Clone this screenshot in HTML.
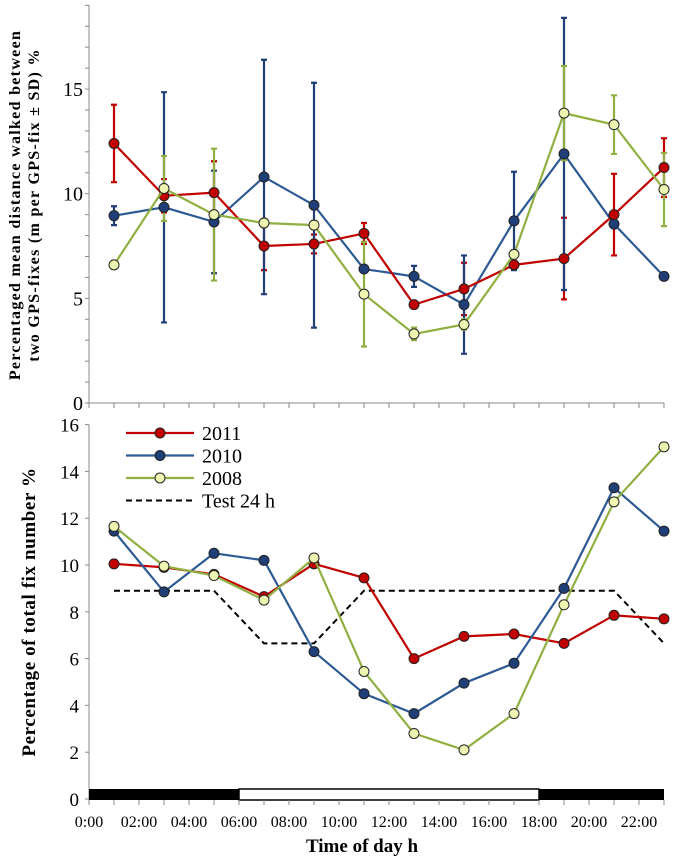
<!DOCTYPE html>
<html><head><meta charset="utf-8"><style>
body{margin:0;background:#fff}
svg{display:block;font-family:"Liberation Serif",serif}
</style></head><body>
<svg id="c" width="674" height="862" viewBox="0 0 674 862"></svg>
<script>
const hours=[1,3,5,7,9,11,13,15,17,19,21,23];
// top panel: mean distance
const top2011=[12.4,9.9,10.05,7.5,7.6,8.1,4.7,5.45,6.6,6.9,9.0,11.25];
const sd2011=[1.85,0.8,1.5,1.15,0.45,0.5,0.1,1.25,0.15,1.95,1.95,1.4];
const top2010=[8.95,9.35,8.65,10.8,9.45,6.4,6.05,4.7,8.7,11.9,8.55,6.05];
const sd2010=[0.45,5.5,2.45,5.6,5.85,0,0.5,2.35,2.35,6.5,0,0];
const top2008=[6.6,10.25,9.0,8.6,8.5,5.2,3.3,3.75,7.1,13.85,13.3,10.2];
const sd2008=[0.2,1.55,3.15,0.2,0.2,2.5,0.3,0.25,0.2,2.25,1.4,1.75];
const topTicks=[0,5,10,15];
// bottom panel: fix number
const bot2011=[10.05,9.9,9.6,8.65,10.05,9.45,6.0,6.95,7.05,6.65,7.85,7.7];
const bot2010=[11.45,8.85,10.5,10.2,6.3,4.5,3.65,4.95,5.8,9.0,13.3,11.45];
const bot2008=[11.65,9.95,9.55,8.5,10.3,5.45,2.8,2.1,3.65,8.3,12.7,15.05];
const botTest=[8.9,8.9,8.9,6.65,6.65,8.9,8.9,8.9,8.9,8.9,8.9,6.65];
const botTicks=[0,2,4,6,8,10,12,14,16];
const xLabels=["0:00","02:00","04:00","06:00","08:00","10:00","12:00","14:00","16:00","18:00","20:00","22:00"];
const legendNames=["2011","2010","2008","Test 24 h"];

const svg=document.getElementById('c');
const NS='http://www.w3.org/2000/svg';
function mk(t,a,p){const e=document.createElementNS(NS,t);for(const k in a)e.setAttribute(k,a[k]);(p||svg).appendChild(e);return e;}
const X0=89,PX=25;
const x=h=>X0+h*PX;
const yT=v=>403-v*20.93;
const yB=v=>799-v*23.4;
const X1=x(23);
const C={r:['#c00000','#c00000'],b:['#2e5a94','#1f3f78'],g:['#8fb040','#eef5b0']};

// top axes
let e=mk('line',{x1:X0,y1:5,x2:X0,y2:yT(0),stroke:'#888'});

e=mk('line',{x1:X0,y1:yT(0),x2:X1,y2:yT(0),stroke:'#888'});

for(let v=0;v<=19;v++){e=mk('line',{x1:X0-4,y1:yT(v),x2:X0,y2:yT(v),stroke:'#888'});}
for(let h=0;h<=23;h++){e=mk('line',{x1:x(h),y1:yT(0),x2:x(h),y2:yT(0)+5,stroke:'#888'});}
topTicks.forEach(v=>{e=mk('text',{x:X0-6,y:yT(v)+7,'text-anchor':'end','font-size':20});e.textContent=v;});
e=mk('text',{transform:'translate(20,205) rotate(-90)','text-anchor':'middle','font-size':16,'font-weight':'bold','letter-spacing':'1.3'});e.textContent='Percentaged mean distance walked between';

e=mk('text',{transform:'translate(39,205) rotate(-90)','text-anchor':'middle','font-size':16,'font-weight':'bold','letter-spacing':'1.3'});e.textContent='two GPS-fixes (m per GPS-fix ± SD) %';


function errs(vals,sds,col,name){
  vals.forEach((v,i)=>{if(!sds[i])return;const cx=x(hours[i]);
    const l=mk('path',{d:`M${cx},${yT(v-sds[i])}V${yT(v+sds[i])}M${cx-3},${yT(v-sds[i])}h6M${cx-3},${yT(v+sds[i])}h6`,stroke:col,'stroke-width':2.2,fill:'none'});
    });
}
function series(vals,yf,c,name,r){
  const p=mk('polyline',{points:vals.map((v,i)=>x(hours[i])+','+yf(v)).join(' '),fill:'none',stroke:c[0],'stroke-width':2.2});
  
  vals.forEach((v,i)=>{const m=mk('circle',{cx:x(hours[i]),cy:yf(v),r:r,fill:c[1],stroke:'#222','stroke-width':1});
    });
}
errs(top2011,sd2011,'#c00000','top-2011');
errs(top2010,sd2010,'#1f3f78','top-2010');
errs(top2008,sd2008,'#8fb040','top-2008');
series(top2010,yT,C.b,'top-2010',5);
series(top2011,yT,C.r,'top-2011',5);
series(top2008,yT,C.g,'top-2008',5);

// bottom axes
e=mk('line',{x1:X0,y1:yB(16),x2:X0,y2:yB(0)+4,stroke:'#888'});

botTicks.forEach(v=>{let t=mk('line',{x1:X0-4,y1:yB(v),x2:X0,y2:yB(v),stroke:'#888'});
  t=mk('text',{x:X0-10,y:yB(v)+7,'text-anchor':'end','font-size':19});t.textContent=v;});
e=mk('rect',{x:X0,y:789,width:x(6)-X0,height:11,fill:'#000'});
e=mk('rect',{x:x(6),y:789,width:x(18)-x(6),height:11,fill:'#fff',stroke:'#000','stroke-width':1.5});
e=mk('rect',{x:x(18),y:789,width:X1-x(18),height:11,fill:'#000'});
for(let h=0;h<=23;h++){e=mk('line',{x1:x(h),y1:800,x2:x(h),y2:805,stroke:'#888'});}
xLabels.forEach((s,i)=>{e=mk('text',{x:x(i*2),y:827,'text-anchor':'middle','font-size':16});e.textContent=s;});
e=mk('text',{x:362,y:852,'text-anchor':'middle','font-size':19,'font-weight':'bold'});e.textContent='Time of day h';

e=mk('text',{transform:'translate(35,612) rotate(-90)','text-anchor':'middle','font-size':19,'font-weight':'bold','letter-spacing':'0.6'});e.textContent='Percentage of total fix number %';


e=mk('polyline',{points:botTest.map((v,i)=>x(hours[i])+','+yB(v)).join(' '),fill:'none',stroke:'#000','stroke-width':2,'stroke-dasharray':'6,4'});

series(bot2011,yB,C.r,'bottom-2011',5);
series(bot2010,yB,C.b,'bottom-2010',5);
series(bot2008,yB,C.g,'bottom-2008',5);

// legend
const lc=[C.r,C.b,C.g];
legendNames.forEach((n,i)=>{const ly=433+i*22.5;
  const g=mk('g',{});
  if(i<3){mk('line',{x1:126,y1:ly,x2:194,y2:ly,stroke:lc[i][0],'stroke-width':2.2},g);mk('circle',{cx:160,cy:ly,r:5,fill:lc[i][1],stroke:'#222'},g);}
  else mk('line',{x1:126,y1:ly,x2:194,y2:ly,stroke:'#000','stroke-width':2,'stroke-dasharray':'6,4'},g);
  const t=mk('text',{x:202,y:ly+7,'font-size':20},g);t.textContent=n;});
</script>
</body></html>
